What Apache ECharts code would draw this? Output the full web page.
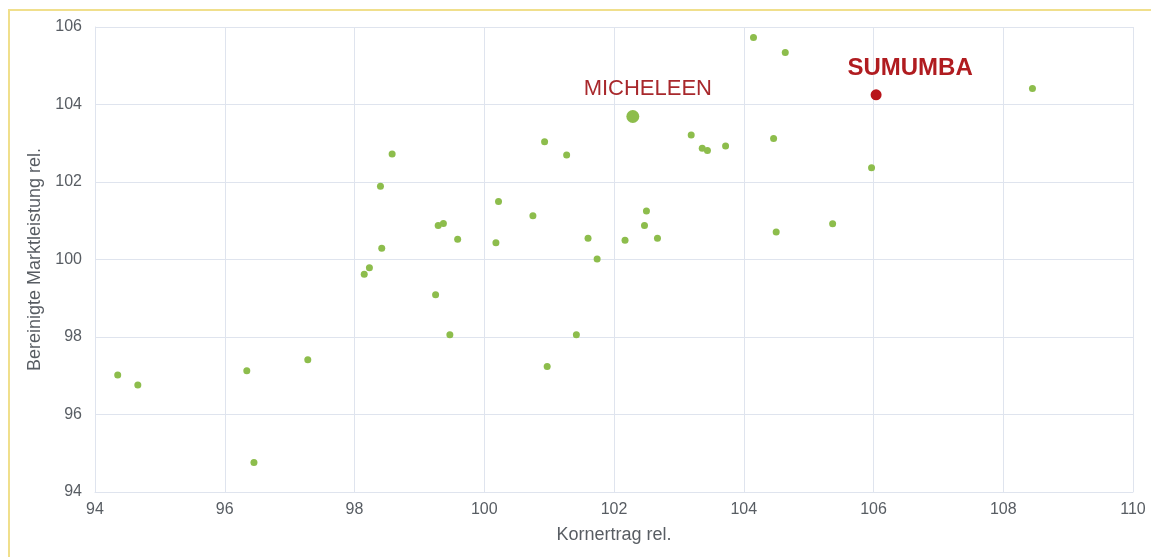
<!DOCTYPE html>
<html>
<head>
<meta charset="utf-8">
<script src="https://cdn.jsdelivr.net/npm/echarts@6/dist/echarts.min.js"></script>
<style>
  html, body { margin: 0; padding: 0; background: #ffffff; overflow: hidden; }
  #frame { position: absolute; left: 8px; top: 9px; width: 1300px; height: 700px; border: 2px solid #f0df8c; box-sizing: border-box; pointer-events: none; }
  #chart { position: absolute; left: 0; top: 0; width: 1151px; height: 557px; }
</style>
</head>
<body>
<div id="chart"></div>
<div id="frame"></div>
<script>
// Varieties: Kornertrag rel. (x) vs Bereinigte Marktleistung rel. (y)
const otherX = [94.35, 94.66, 96.34, 96.45, 97.28, 98.15, 98.23, 98.42, 98.40, 98.58,
  99.25, 99.47, 99.29, 99.37, 99.59, 100.18, 100.22, 100.75, 100.93, 100.97,
  101.27, 101.42, 101.60, 101.74, 102.17, 102.47, 102.50, 102.67, 103.19, 103.36,
  103.44, 103.72, 104.46, 104.50, 104.15, 104.64, 105.37, 105.97, 108.45];
const otherY = [97.02, 96.76, 97.13, 94.76, 97.41, 99.62, 99.79, 100.29, 101.89, 102.72,
  99.09, 98.06, 100.88, 100.93, 100.52, 100.43, 101.50, 101.13, 103.04, 97.24,
  102.70, 98.06, 100.55, 100.01, 100.50, 100.88, 101.25, 100.55, 103.21, 102.87,
  102.81, 102.93, 103.12, 100.71, 105.73, 105.34, 100.92, 102.37, 104.41];
const michName = 'MICHELEEN';
const michPoint = [102.29, 103.69];
const sumName = 'SUMUMBA';
const sumPoint = [106.04, 104.25];
const xTicks = { min: 94, max: 110, step: 2 };
const yTicks = { min: 94, max: 106, step: 2 };
const xName = 'Kornertrag rel.';
const yName = 'Bereinigte Marktleistung rel.';

const otherData = otherX.map((x, i) => [x, otherY[i]]);
const gridColor = '#dfe4ee';
const labelColor = '#585d63';
const font = 'Liberation Sans, Arial, sans-serif';

const chart = echarts.init(document.getElementById('chart'), null, { renderer: 'canvas' });
chart.setOption({
  animation: false,
  backgroundColor: 'transparent',
  grid: { left: 95, right: 18, top: 27, bottom: 65 },
  xAxis: {
    type: 'value', min: xTicks.min, max: xTicks.max, interval: xTicks.step,
    name: xName, nameLocation: 'middle', nameGap: 34,
    nameTextStyle: { color: labelColor, fontSize: 18, fontFamily: font },
    axisLine: { show: true, lineStyle: { color: gridColor, width: 1 } },
    axisTick: { show: false },
    axisLabel: { color: labelColor, fontSize: 16, fontFamily: font, margin: 10 },
    splitLine: { show: true, lineStyle: { color: gridColor, width: 1 } }
  },
  yAxis: {
    type: 'value', min: yTicks.min, max: yTicks.max, interval: yTicks.step,
    name: yName, nameLocation: 'middle', nameGap: 45, nameRotate: 90,
    nameTextStyle: { color: labelColor, fontSize: 18, fontFamily: font },
    axisLine: { show: true, lineStyle: { color: gridColor, width: 1 } },
    axisTick: { show: false },
    axisLabel: { color: labelColor, fontSize: 16, fontFamily: font, margin: 13 },
    splitLine: { show: true, lineStyle: { color: gridColor, width: 1 } }
  },
  series: [
    {
      type: 'scatter', data: otherData, symbolSize: 7,
      itemStyle: { color: '#8dbd4c', opacity: 1 }, silent: true
    },
    {
      type: 'scatter', data: [michPoint], symbolSize: 13,
      itemStyle: { color: '#8dbd4c', opacity: 1 },
      label: {
        show: true, formatter: michName, position: 'top', offset: [15, -5],
        color: '#a8282c', fontSize: 22, fontFamily: font
      }, silent: true
    },
    {
      type: 'scatter', data: [sumPoint], symbolSize: 11,
      itemStyle: { color: '#b8141a', opacity: 1 },
      label: {
        show: true, formatter: sumName, position: 'top', offset: [34, -4],
        color: '#b01c20', fontSize: 24, fontWeight: 'bold', fontFamily: font
      }, silent: true
    }
  ]
});
</script>
</body>
</html>
